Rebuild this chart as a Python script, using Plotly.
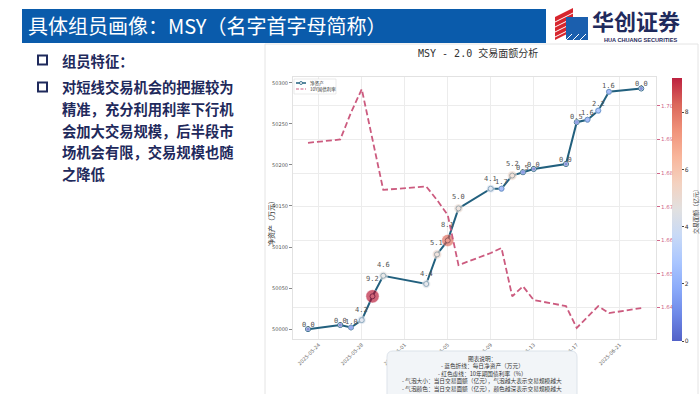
import plotly.graph_objects as go

W, H = 700, 394
def px(x): return x / W
def py(y): return 1 - y / H

CJK = "Noto Sans CJK SC"
MONO = "DejaVu Sans Mono, Noto Sans CJK SC"

# ---------------- data ----------------
dates = ["2025-05-23", "2025-05-26", "2025-05-27", "2025-05-28", "2025-05-29", "2025-05-30",
         "2025-06-03", "2025-06-04", "2025-06-05", "2025-06-06", "2025-06-09", "2025-06-10",
         "2025-06-11", "2025-06-12", "2025-06-13", "2025-06-16", "2025-06-17", "2025-06-18",
         "2025-06-19", "2025-06-20", "2025-06-23"]
net_assets = [50000, 50005, 50002, 50011, 50040, 50065, 50055, 50091, 50108, 50147, 50171, 50171,
              50187, 50191, 50195, 50201, 50252, 50255, 50266, 50289, 50293]
trade_amount = [0.0, 0.0, 1.0, 4.2, 9.2, 4.6, 4.4, 5.1, 8.1, 5.0, 4.1, 1.7,
                5.2, 0.5, 0.0, 0.0, 0.5, 1.6, 2.2, 1.6, 0.0]
bond_yield = [1.689, 1.690, 1.698, 1.705, 1.690, 1.675, 1.676, 1.672, 1.6675, 1.6526, 1.6562, 1.6577,
              1.6433, 1.6463, 1.6422, 1.6404, 1.6339, 1.637, 1.6404, 1.6383, 1.6398]

x_tick_vals = ["2025-05-24", "2025-05-28", "2025-06-01", "2025-06-05",
               "2025-06-09", "2025-06-13", "2025-06-17", "2025-06-21"]
y_tick_vals = [50000, 50050, 50100, 50150, 50200, 50250, 50300]
y2_tick_vals = [1.63, 1.64, 1.65, 1.66, 1.67, 1.68, 1.69, 1.70]
cbar_tick_vals = [0, 2, 4, 6, 8]

slide_title = "具体组员画像：MSY（名字首字母简称）"
chart_title = "MSY - 2.0 交易面额分析"
bullet_head = "组员特征："
bullet_lines = ["对短线交易机会的把握较为", "精准，充分利用利率下行机", "会加大交易规模，后半段市",
                "场机会有限，交易规模也随", "之降低"]
note_lines = ["图表说明：", "- 蓝色折线：每日净资产（万元）", "- 红色虚线：10年期国债利率（%）",
              "- 气泡大小：当日交易面额（亿元），气泡越大表示交易规模越大",
              "- 气泡颜色：当日交易面额（亿元），颜色越深表示交易规模越大"]
legend_names = ["净资产", "10Y国债利率"]

a = 0.88
coolwarm = [[0.0, f"rgba(59,76,192,{a})"], [0.1, f"rgba(90,120,228,{a})"], [0.2, f"rgba(123,159,249,{a})"],
            [0.3, f"rgba(158,190,255,{a})"], [0.4, f"rgba(192,212,245,{a})"], [0.5, f"rgba(221,220,220,{a})"],
            [0.6, f"rgba(242,203,183,{a})"], [0.7, f"rgba(247,172,142,{a})"], [0.8, f"rgba(238,132,104,{a})"],
            [0.9, f"rgba(214,82,68,{a})"], [1.0, f"rgba(180,4,38,{a})"]]

LINE_C = "#22607e"
DASH_C = "#cc5b7f"
NAVY = "#1f2a5c"

fig = go.Figure()

fig.add_trace(go.Scatter(
    x=dates, y=net_assets, mode="lines+markers", name=legend_names[0],
    line=dict(color=LINE_C, width=2),
    marker=dict(symbol="circle", size=5, color="white", line=dict(color=LINE_C, width=1)),
    hoverinfo="skip"))

fig.add_trace(go.Scatter(
    x=dates, y=net_assets, mode="markers",
    marker=dict(size=[4 + 1.0 * v for v in trade_amount], color=trade_amount,
                colorscale=coolwarm, cmin=0, cmax=max(trade_amount),
                line=dict(color="rgba(255,255,255,0.7)", width=0.6),
                colorbar=dict(x=px(672), xanchor="left", thickness=10, len=263 / H, lenmode="fraction",
                              y=py(209.5), yanchor="middle", xpad=0, ypad=0, outlinewidth=0,
                              tickvals=cbar_tick_vals, ticks="outside", ticklen=2, tickcolor="#444",
                              tickfont=dict(size=6, color="#333", family="DejaVu Sans"))),
    hoverinfo="skip"))

fig.add_trace(go.Scatter(
    x=dates, y=bond_yield, yaxis="y2", mode="lines", name=legend_names[1],
    line=dict(color=DASH_C, width=1.8, dash="6px,3px"), hoverinfo="skip"))

for d, v, n in zip(dates, trade_amount, net_assets):
    fig.add_annotation(x=d, y=n, xref="x", yref="y", text=f"{v:.1f}", showarrow=False,
                       font=dict(size=7, color="#555", family=MONO),
                       xanchor="center", yanchor="middle", yshift=4 + 1.4 * v)

fig.update_layout(
    width=W, height=H, margin=dict(l=0, r=0, t=0, b=0),
    paper_bgcolor="white", plot_bgcolor="white", showlegend=False,
    xaxis=dict(domain=[px(293), px(656)], type="date",
               range=["2025-05-21 14:30", "2025-06-24 09:00"],
               tickvals=x_tick_vals, tickformat="%Y-%m-%d", tickangle=-45,
               tickfont=dict(size=5, color="#666", family="DejaVu Sans"),
               showgrid=True, gridcolor="#ececec", gridwidth=1,
               showline=True, linecolor="#e2e2e2", mirror=True, ticks="", zeroline=False),
    yaxis=dict(domain=[py(339), py(77)], range=[49988, 50307], tickvals=y_tick_vals, tickformat="d",
               tickfont=dict(size=5, color="#555", family="DejaVu Sans"),
               ticks="outside", ticklen=3, tickcolor="#888", showgrid=False,
               showline=True, linecolor="#e2e2e2", mirror=True, zeroline=False),
    yaxis2=dict(overlaying="y", side="right", range=[1.6306, 1.7086], tickvals=y2_tick_vals,
                tickformat=".2f", tickfont=dict(size=5.5, color="#d0668a", family="DejaVu Sans"),
                ticks="outside", ticklen=3, tickcolor="#d0668a",
                showgrid=True, gridcolor="#ececec", zeroline=False, showline=False),
)

shapes = []
def rect(x0, y0, x1, y1, **kw):
    shapes.append(dict(type="rect", xref="paper", yref="paper",
                       x0=px(x0), x1=px(x1), y0=py(y1), y1=py(y0), **kw))

def path(pts, **kw):
    s = "M" + " L".join(f"{px(x):.5f},{py(y):.5f}" for x, y in pts) + " Z"
    shapes.append(dict(type="path", xref="paper", yref="paper", path=s, **kw))

def rrect(x0, y0, x1, y1, r, **kw):
    X = lambda x: f"{px(x):.5f}"
    Y = lambda y: f"{py(y):.5f}"
    s = (f"M{X(x0+r)},{Y(y0)} L{X(x1-r)},{Y(y0)} Q{X(x1)},{Y(y0)} {X(x1)},{Y(y0+r)} "
         f"L{X(x1)},{Y(y1-r)} Q{X(x1)},{Y(y1)} {X(x1-r)},{Y(y1)} L{X(x0+r)},{Y(y1)} "
         f"Q{X(x0)},{Y(y1)} {X(x0)},{Y(y1-r)} L{X(x0)},{Y(y0+r)} Q{X(x0)},{Y(y0)} {X(x0+r)},{Y(y0)} Z")
    shapes.append(dict(type="path", xref="paper", yref="paper", path=s, **kw))

# title bar
rect(22, 9, 546, 43, fillcolor="#0a5bab", line=dict(width=0), layer="below")
# chart image frame
rect(265, 44, 698, 396, fillcolor="rgba(0,0,0,0)", line=dict(color="#e4e4e4", width=1), layer="below")
# logo icon
path([(555, 17), (573, 8), (573, 31), (555, 40)], fillcolor="#d7262e", line=dict(width=0))
for k in range(4):
    shapes.append(dict(type="line", xref="paper", yref="paper",
                       x0=px(555), y0=py(22 + k * 5), x1=px(573), y1=py(13 + k * 5),
                       line=dict(color="white", width=1)))
rect(566, 17, 588, 40, fillcolor="#1b5fae", line=dict(width=0))
for k in range(3):
    shapes.append(dict(type="line", xref="paper", yref="paper",
                       x0=px(566 + k * 7), y0=py(40), x1=px(572 + k * 7), y1=py(34),
                       line=dict(color="white", width=1)))
# bullets
for yb in (60, 87):
    rect(38, yb - 4.5, 47, yb + 4.5, fillcolor="white", line=dict(color=NAVY, width=2))
# legend (manual)
rect(294, 79, 336, 94, fillcolor="white", line=dict(color="#dddddd", width=0.6))
shapes.append(dict(type="line", xref="paper", yref="paper", x0=px(296), x1=px(306), y0=py(83), y1=py(83),
                   line=dict(color=LINE_C, width=1.5)))
shapes.append(dict(type="circle", xref="paper", yref="paper", x0=px(299.5), x1=px(302.5), y0=py(84.5), y1=py(81.5),
                   fillcolor="white", line=dict(color=LINE_C, width=0.8)))
shapes.append(dict(type="line", xref="paper", yref="paper", x0=px(296), x1=px(306), y0=py(89), y1=py(89),
                   line=dict(color=DASH_C, width=1.2, dash="3px,1.5px")))
# note box
rrect(387, 351, 577, 402, 6, fillcolor="#f2f5f8", line=dict(color="#dde3ea", width=1))
fig.update_layout(shapes=shapes)

def txt(x, y, s, size, color="#333", family=CJK, xanchor="left", angle=0):
    fig.add_annotation(x=px(x), y=py(y), xref="paper", yref="paper", text=s, showarrow=False,
                       font=dict(size=size, color=color, family=family),
                       xanchor=xanchor, yanchor="middle", textangle=angle, borderpad=0)

txt(27, 26, slide_title, 20, color="white")
txt(591, 20, "<b>华创证券</b>", 22, color=NAVY)
txt(640, 39.5, "<b>HUA CHUANG SECURITIES</b>", 5.6, color=NAVY, family="Liberation Sans", xanchor="center")

txt(61, 60, f"<b>{bullet_head}</b>", 14.3, color=NAVY)
for i, line in enumerate(bullet_lines):
    txt(61, 87 + i * 21.5, f"<b>{line}</b>", 14.3, color=NAVY)

txt(478, 53, chart_title, 10, color="#333", family=MONO, xanchor="center")
txt(271, 222, "净资产（万元）", 7, color="#333", xanchor="center", angle=-90)
txt(695, 210, "交易面额（亿元）", 6, color="#333", xanchor="center", angle=-90)

txt(309, 83, legend_names[0], 4.6, color="#333")
txt(309, 89, legend_names[1], 4.6, color="#333")

for i, line in enumerate(note_lines):
    txt(482, 358 + i * 7.6, line, 5.7, color="#333", xanchor="center")

fig.write_html("out.html", config={"displayModeBar": False},
               post_script="document.body.style.margin='0';document.body.style.overflow='hidden';")
